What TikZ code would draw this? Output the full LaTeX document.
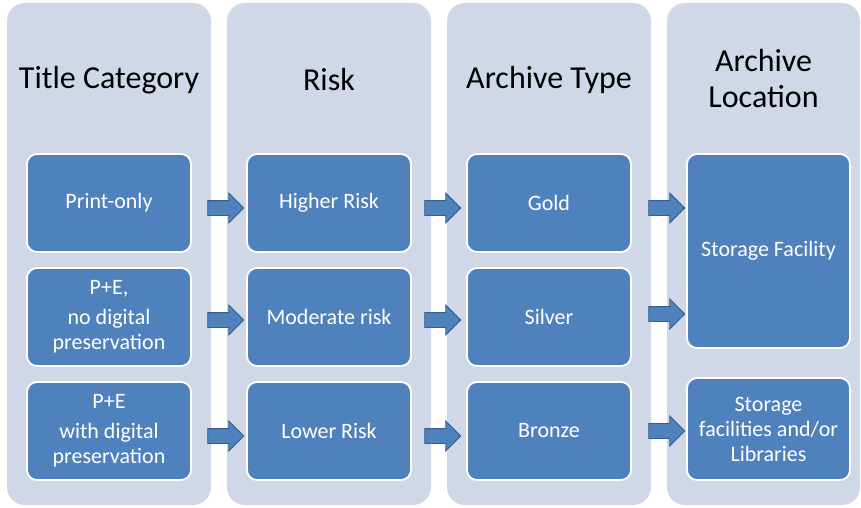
\documentclass[tikz,border=0pt]{standalone}
\usepackage{fontspec}
\setmainfont{Carlito}
\usetikzlibrary{shapes.arrows,calc}
\definecolor{panel}{HTML}{D0D8E8}
\definecolor{boxblue}{HTML}{4F81BD}
\definecolor{arrowedge}{HTML}{385D8A}
\begin{document}
\begin{tikzpicture}[x=1pt,y=-1pt,
  panelbox/.style={fill=panel, rounded corners=18pt, minimum width=204pt, minimum height=502pt, inner sep=0pt},
  titletext/.style={font=\fontsize{32}{36}\selectfont, text=black, align=center},
  bluebox/.style={fill=boxblue, draw=white, line width=1.8pt, rounded corners=10pt,
     minimum width=164pt, minimum height=98pt, inner sep=0pt, text=white, align=center,
     font=\fontsize{22}{25}\selectfont},
  blockarrow/.style={shape=single arrow, fill=boxblue, draw=arrowedge, line width=0.9pt,
     minimum height=36pt, single arrow head extend=7.5pt, inner xsep=0pt, inner ysep=7pt}]
\useasboundingbox (0,0) rectangle (861,508);
\fill[white] (0,0) rectangle (861,508);
% panels
\node[panelbox] (p1) at (109,254) {};
\node[panelbox] (p2) at (329,254) {};
\node[panelbox] (p3) at (549,254) {};
\node[panelbox, minimum width=193pt] (p4) at (763.5,254) {};
% titles
\node[titletext] (t1) at (109,80) {Title Category};
\node[titletext] (t2) at (329,80) {Risk};
\node[titletext] (t3) at (549,80) {Archive Type};
\node[titletext] (t4) at (763.5,79) {Archive\\Location};
% boxes
\node[bluebox] (b11) at (109,203) {Print-only};
\node[bluebox] (b12) at (109,317) {P+E,\\[5pt]no digital\\preservation};
\node[bluebox] (b13) at (109,431) {P+E\\[5pt]with digital\\preservation};
\node[bluebox] (b21) at (329,203) {Higher Risk};
\node[bluebox] (b22) at (329,317) {Moderate risk};
\node[bluebox] (b23) at (329,431) {Lower Risk};
\node[bluebox] (b31) at (549,203) {Gold};
\node[bluebox] (b32) at (549,317) {Silver};
\node[bluebox] (b33) at (549,431) {Bronze};
\node[bluebox, minimum width=163pt, minimum height=194pt] (b41) at (768.5,251) {Storage Facility};
\node[bluebox, minimum width=163pt, minimum height=102pt] (b42) at (768.5,429) {Storage\\facilities and/or\\Libraries};
% arrows
\node[blockarrow] (a11) at ($(b11.east)!0.5!(b21.west)+(3,5)$) {};
\node[blockarrow] (a12) at ($(b12.east)!0.5!(b22.west)+(3,3)$) {};
\node[blockarrow] (a13) at ($(b13.east)!0.5!(b23.west)+(3,5)$) {};
\node[blockarrow] (a21) at ($(b21.east)!0.5!(b31.west)+(0,5)$) {};
\node[blockarrow] (a22) at ($(b22.east)!0.5!(b32.west)+(0,3)$) {};
\node[blockarrow] (a23) at ($(b23.east)!0.5!(b33.west)+(0,5)$) {};
\node[blockarrow] (a31) at ($(b31.east)!0.5!(b41.west|-b31.east)+(4,5)$) {};
\node[blockarrow] (a32) at ($(b32.east)!0.5!(b41.west|-b32.east)+(4,-3)$) {};
\node[blockarrow] (a33) at ($(b33.east)!0.5!(b42.west|-b33.east)+(4,0)$) {};
\end{tikzpicture}
\end{document}
